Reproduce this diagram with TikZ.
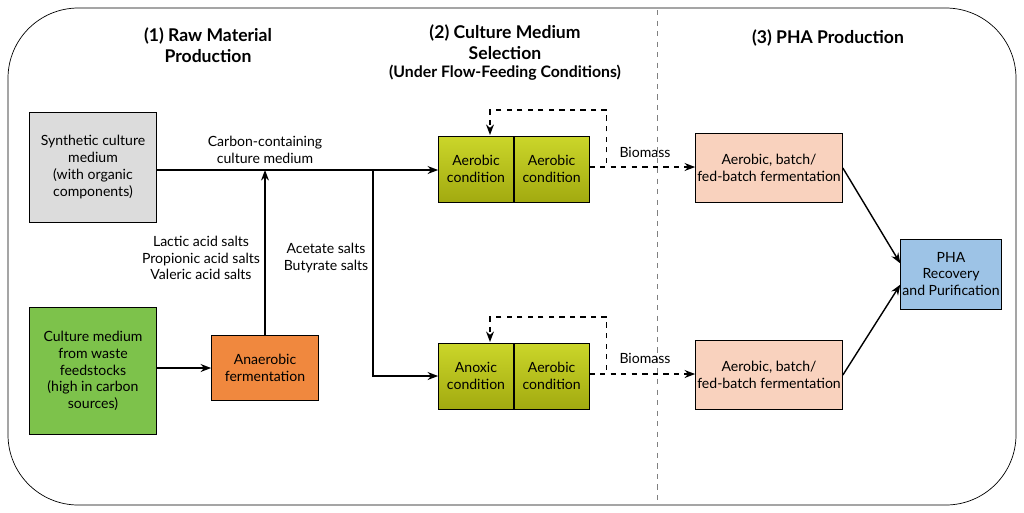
\documentclass[tikz,border=0pt]{standalone}
\usepackage{fontspec}
\setmainfont{Lato}
\usetikzlibrary{arrows.meta,positioning}
\definecolor{synth}{HTML}{DCDCDC}
\definecolor{waste}{HTML}{7DC24B}
\definecolor{anaer}{HTML}{F0883E}
\definecolor{condtop}{HTML}{CBD62A}
\definecolor{condbot}{HTML}{A2AA10}
\definecolor{ferm}{HTML}{F9D2BE}
\definecolor{pha}{HTML}{9DC3E6}
\tikzset{
  box/.style={draw, thin, align=center, font=\footnotesize, inner sep=1pt},
  cond/.style={box, minimum width=1.5cm, minimum height=1.32cm, top color=condtop, bottom color=condbot},
  fermbox/.style={box, fill=ferm, minimum width=2.56cm, minimum height=1.38cm},
  head/.style={align=center, font=\bfseries},
  lbl/.style={align=center, font=\footnotesize},
  loop/.style={dashed, thick, -{Stealth[length=6pt]}},
}
\begin{document}
\begin{tikzpicture}[x=0.02cm, y=-0.02cm, >={Stealth[length=6pt]}, thick]
  \useasboundingbox (0,0) rectangle (1024,512);
  \draw[thin, rounded corners=40] (8,8) rectangle (1016,505);
  \draw[thin, dashed, gray] (657,10) -- (657,505);

  % headers
  \node[head] at (208,45) {(1) Raw Material\\Production};
  \node[head] at (505,42) {(2) Culture Medium\\Selection};
  \node[lbl, font=\small\bfseries] at (505,73) {(Under Flow-Feeding Conditions)};
  \node[head] at (828,38) {(3) PHA Production};

  % raw material
  \node[box, fill=synth, minimum width=2.54cm, minimum height=2.2cm] (synth) at (93,167)
    {Synthetic culture\\medium\\(with organic\\components)};
  \node[box, fill=waste, minimum width=2.54cm, minimum height=2.54cm] (waste) at (93,371)
    {Culture medium\\from waste\\feedstocks\\(high in carbon\\sources)};
  \node[box, fill=anaer, minimum width=2.14cm, minimum height=1.3cm] (anaer) at (265,368)
    {Anaerobic\\fermentation};

  % culture medium selection
  \node[cond] (c1) at (476,169) {Aerobic\\condition};
  \node[cond, right=0pt of c1] (c2) {Aerobic\\condition};
  \node[cond] (c3) at (476,376) {Anoxic\\condition};
  \node[cond, right=0pt of c3] (c4) {Aerobic\\condition};

  % PHA production
  \node[fermbox] (f1) at (769,168) {Aerobic, batch/\\fed-batch fermentation};
  \node[fermbox] (f2) at (769,375) {Aerobic, batch/\\fed-batch fermentation};
  \node[box, fill=pha, minimum width=1.84cm, minimum height=1.4cm] (rec) at (951,274)
    {PHA\\Recovery\\and Purification};

  \coordinate (join) at (265,170);
  \coordinate (split) at (373,170);
  \draw[->] (synth.east |- join) -- (c1.west |- join);
  \draw[->] (anaer.north) -- (join);
  \draw[->] (waste.east |- anaer) -- (anaer.west);
  \draw[->] (split) |- (c3.west);
  \node[lbl] at (265,150) {Carbon-containing\\culture medium};
  \node[lbl] at (201,258) {Lactic acid salts\\Propionic acid salts\\Valeric acid salts};
  \node[lbl] at (326,258) {Acetate salts\\Butyrate salts};

  \draw[loop] (c2.east |- 0,167) -- ++(17,0) |- (490,110) -- (490,135);
  \draw[loop] (c4.east |- 0,374) -- ++(17,0) |- (490,317) -- (490,342);
  \draw[loop] (c2.east |- 0,167) -- (f1.west |- 0,167);
  \draw[loop] (c4.east |- 0,374) -- (f2.west |- 0,374);
  \node[lbl] at (645,152) {Biomass};
  \node[lbl] at (645,358) {Biomass};

  \draw[->] (f1.east) -- ([yshift=6pt]rec.west);
  \draw[->] (f2.east) -- ([yshift=-6pt]rec.west);
\end{tikzpicture}
\end{document}
